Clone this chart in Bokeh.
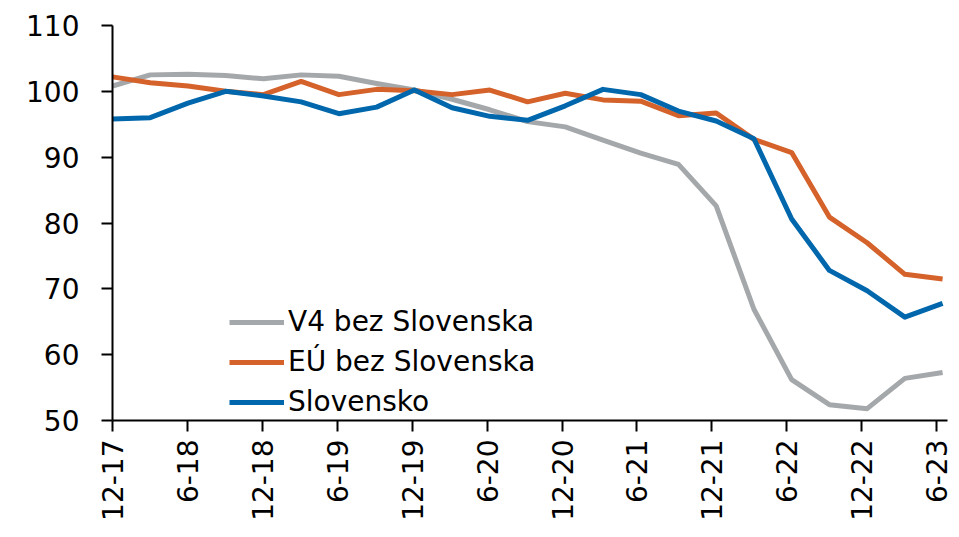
import math
from bokeh.plotting import figure
from bokeh.models import ColumnDataSource, Range1d, FixedTicker, Legend, LegendItem
from bokeh.embed import file_html
from bokeh.resources import INLINE

quarters = ["12-17", "3-18", "6-18", "9-18", "12-18", "3-19", "6-19", "9-19", "12-19",
            "3-20", "6-20", "9-20", "12-20", "3-21", "6-21", "9-21", "12-21", "3-22",
            "6-22", "9-22", "12-22", "3-23", "6-23"]

v4_bez_sk = [100.8, 102.5, 102.6, 102.4, 101.9, 102.5, 102.3, 101.2, 100.2, 98.8, 97.2,
             95.4, 94.6, 92.6, 90.6, 88.9, 82.6, 66.9, 56.2, 52.4, 51.8, 56.4, 57.3]
eu_bez_sk = [102.2, 101.3, 100.8, 100.0, 99.5, 101.5, 99.5, 100.3, 100.1, 99.5, 100.2,
             98.4, 99.7, 98.7, 98.5, 96.3, 96.7, 92.7, 90.7, 80.9, 77.0, 72.2, 71.5]
slovensko = [95.8, 96.0, 98.2, 100.0, 99.3, 98.4, 96.6, 97.6, 100.2, 97.5, 96.2, 95.6,
             97.8, 100.3, 99.5, 97.0, 95.5, 92.8, 80.6, 72.8, 69.7, 65.7, 67.8]

series_names = ["V4 bez Slovenska", "EÚ bez Slovenska", "Slovensko"]
colors = ["#A5A8AA", "#D4622A", "#0067AC"]
y_ticks = [50, 60, 70, 80, 90, 100, 110]

xs = list(range(len(quarters)))
src = ColumnDataSource(dict(x=xs, v4=v4_bez_sk, eu=eu_bez_sk, sk=slovensko))

FONT = "DejaVu Sans"

p = figure(width=958, height=528, output_backend="svg", toolbar_location=None,
           x_range=Range1d(0, 22.13), y_range=Range1d(50, 110),
           min_border_left=112, min_border_top=25, min_border_bottom=108,
           min_border_right=11)
p.outline_line_color = None
p.xgrid.grid_line_color = None
p.ygrid.grid_line_color = None
p.background_fill_color = "white"
p.border_fill_color = "white"

renderers = []
for col, c in zip(["v4", "eu", "sk"], colors):
    r = p.line("x", col, source=src, line_color=c, line_width=5, line_join="round")
    renderers.append(r)

legend = Legend(items=[LegendItem(label=n, renderers=[r]) for n, r in zip(series_names, renderers)],
                location=(117, 2), orientation="vertical")
legend.background_fill_alpha = 0
legend.border_line_color = None
legend.label_text_font = FONT
legend.label_text_font_size = "28px"
legend.label_text_color = "#000000"
legend.glyph_width = 55
legend.glyph_height = 28
legend.label_standoff = 4
legend.spacing = 7
legend.padding = 0
legend.margin = 0
p.add_layout(legend, "center")

# Axes: category ticks of the original sit slightly left of the quarterly points
tick_scale = 824 / 830
tick_pos = [i * tick_scale for i in xs[::2]]
p.xaxis.ticker = FixedTicker(ticks=tick_pos)
p.xaxis.major_label_overrides = {t: quarters[i] for t, i in zip(tick_pos, xs[::2])}
p.xaxis.major_label_orientation = math.pi / 2
p.yaxis.ticker = FixedTicker(ticks=y_ticks)
for ax in (p.xaxis[0], p.yaxis[0]):
    ax.axis_line_color = "#000000"
    ax.axis_line_width = 2
    ax.major_tick_line_color = "#000000"
    ax.major_tick_line_width = 2
    ax.major_tick_in = 0
    ax.major_tick_out = 11
    ax.minor_tick_line_color = None
    ax.major_label_text_font = FONT
    ax.major_label_text_font_size = "28px"
    ax.major_label_text_color = "#000000"
p.yaxis.major_label_standoff = 22
p.xaxis.major_label_standoff = 8

open("out.html", "w").write(file_html(p, INLINE))
